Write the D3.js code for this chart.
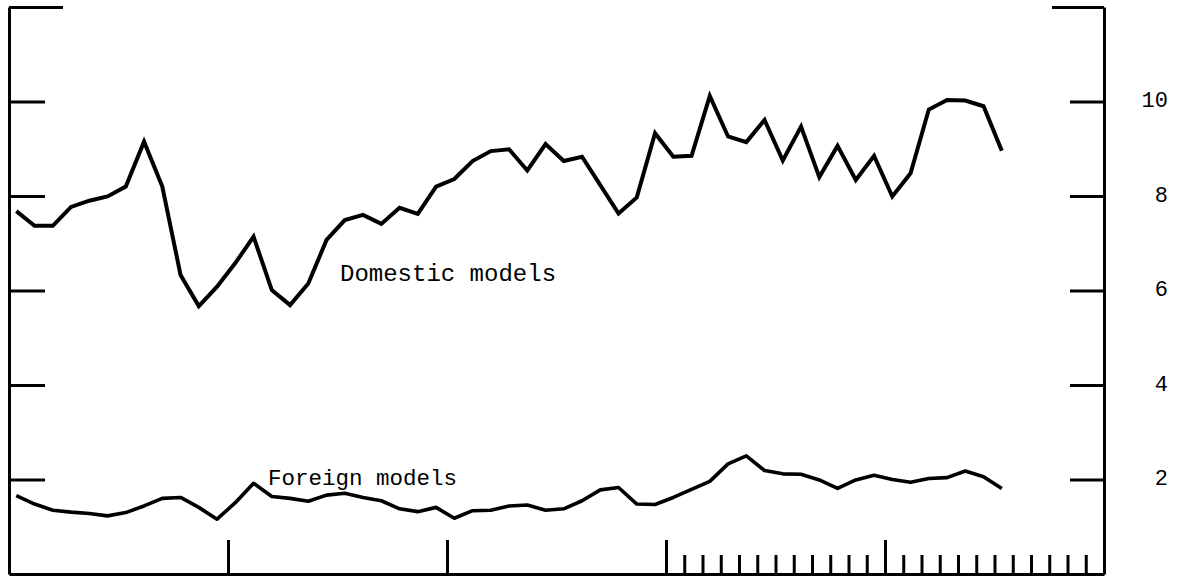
<!DOCTYPE html>
<html>
<head>
<meta charset="utf-8">
<script src="https://cdn.jsdelivr.net/npm/d3@7"></script>
<style>
  html, body { margin: 0; padding: 0; background: #fff; }
  svg { display: block; }
</style>
</head>
<body>
<svg id="chart" width="1178" height="579"></svg>
<script>
// ---- data (monthly, millions of units, annual rate) ----
const domestic = [7.68, 7.37, 7.37, 7.77, 7.90, 7.99, 8.20, 9.15, 8.20, 6.33,
  5.67, 6.08, 6.58, 7.14, 6.01, 5.69, 6.15, 7.07, 7.49, 7.60,
  7.41, 7.75, 7.62, 8.20, 8.36, 8.74, 8.95, 8.99, 8.54, 9.10,
  8.74, 8.83, 8.23, 7.63, 7.97, 9.33, 8.83, 8.85, 10.12, 9.26,
  9.14, 9.61, 8.75, 9.47, 8.40, 9.06, 8.34, 8.85, 7.99, 8.48,
  9.83, 10.03, 10.02, 9.90, 8.96];
const foreign = [1.66, 1.48, 1.35, 1.31, 1.28, 1.23, 1.30, 1.44, 1.60, 1.62,
  1.41, 1.16, 1.51, 1.92, 1.64, 1.60, 1.54, 1.67, 1.71, 1.62,
  1.55, 1.38, 1.32, 1.41, 1.18, 1.34, 1.35, 1.44, 1.46, 1.35,
  1.38, 1.55, 1.78, 1.83, 1.48, 1.47, 1.62, 1.79, 1.96, 2.33,
  2.50, 2.19, 2.12, 2.11, 1.99, 1.81, 1.99, 2.09, 2.00, 1.94,
  2.02, 2.04, 2.18, 2.06, 1.81];
const yTicks = [2, 4, 6, 8, 10, 12];
const rightLabels = [2, 4, 6, 8, 10];
const yearTicks = [0, 12, 24, 36, 48, 60];      // month index of year boundaries
const monthTicks = d3.range(36, 60);            // monthly ticks in the last two years
const seriesLabels = ["Domestic models", "Foreign models"];

// ---- layout ----
const svg = d3.select("#chart");
const x = d3.scaleLinear().domain([0, 60]).range([9, 1104]);
const y = d3.scaleLinear().domain([0, 12]).range([574, 7]);
const ink = "#000";

// left axis (ticks point inward)
const gL = svg.append("g").attr("transform", `translate(${x(0)},0)`)
  .call(d3.axisRight(y).tickValues(yTicks).tickSize(36).tickSizeOuter(0).tickFormat(""));
// right axis (ticks point inward)
const gR = svg.append("g").attr("transform", `translate(${x(60)},0)`)
  .call(d3.axisLeft(y).tickValues(yTicks).tickSize(34).tickSizeOuter(0).tickFormat(""));
// bottom axis: yearly ticks and monthly ticks (pointing up)
const gB = svg.append("g").attr("transform", `translate(0,${y(0)})`)
  .call(d3.axisTop(x).tickValues(yearTicks).tickSize(34).tickSizeOuter(0).tickFormat(""));
const gM = svg.append("g").attr("transform", `translate(0,${y(0)})`)
  .call(d3.axisTop(x).tickValues(monthTicks.filter(m => m % 12 !== 0)).tickSize(19).tickSizeOuter(0).tickFormat(""));
gM.select(".domain").remove();

// longer top ticks at 12
gL.selectAll(".tick").filter(d => d === 12).select("line").attr("x2", 54);
gR.selectAll(".tick").filter(d => d === 12).select("line").attr("x2", -52);

[gL, gR, gB, gM].forEach(g => {
  g.selectAll("path.domain").attr("stroke", ink).attr("stroke-width", 3);
  g.selectAll(".tick line").attr("stroke", ink).attr("stroke-width", 3);
});

// right-side value labels
svg.append("g").selectAll("text").data(rightLabels).join("text")
  .attr("x", 1168).attr("y", d => y(d))
  .attr("text-anchor", "end").attr("dominant-baseline", "central")
  .attr("font-family", "Liberation Mono, monospace").attr("font-size", 22)
  .attr("fill", ink).text(d => d);

// series lines
const line = d3.line().x((d, i) => x(i + 0.4)).y(d => y(d));
svg.append("path").datum(domestic).attr("d", line)
  .attr("fill", "none").attr("stroke", ink).attr("stroke-width", 4)
  .attr("stroke-linejoin", "miter").attr("stroke-linecap", "butt");
svg.append("path").datum(foreign).attr("d", line)
  .attr("fill", "none").attr("stroke", ink).attr("stroke-width", 3.6)
  .attr("stroke-linejoin", "round").attr("stroke-linecap", "butt");

// series labels
svg.append("text").attr("x", 340).attr("y", 281)
  .attr("font-family", "Liberation Mono, monospace").attr("font-size", 24)
  .attr("fill", ink).text(seriesLabels[0]);
svg.append("text").attr("x", 268).attr("y", 485)
  .attr("font-family", "Liberation Mono, monospace").attr("font-size", 22.5)
  .attr("fill", ink).text(seriesLabels[1]);
</script>
</body>
</html>
